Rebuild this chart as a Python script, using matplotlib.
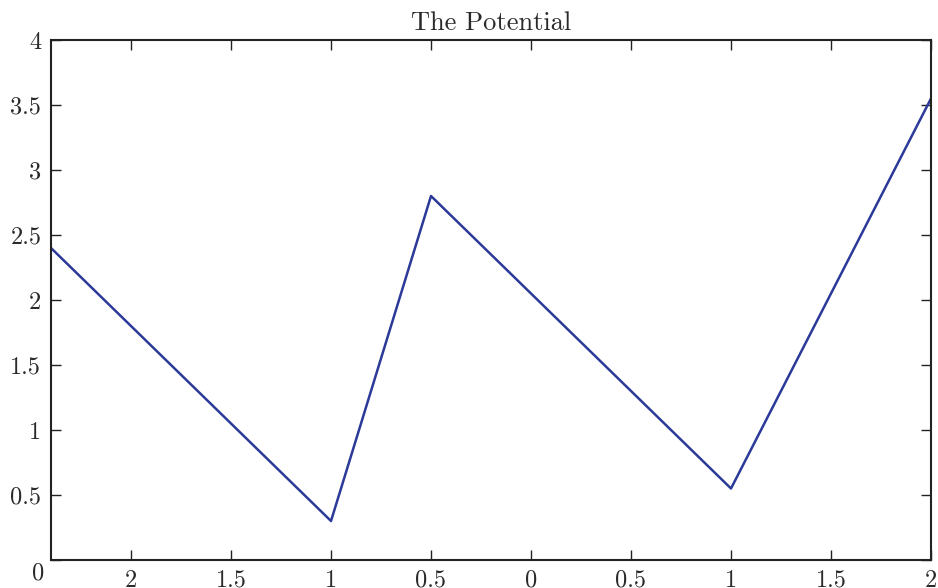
import matplotlib
matplotlib.use("Agg")
import matplotlib.pyplot as plt
import matplotlib.transforms as mtransforms

plt.rcParams['font.family'] = ['cmr10', 'DejaVu Serif']
plt.rcParams['mathtext.fontset'] = 'cm'
plt.rcParams['axes.unicode_minus'] = False

# Data: piecewise-linear potential
x_vals = [-2.4, -1.0, -0.5, 1.0, 2.0]
v_vals = [2.4, 0.3, 2.8, 0.55, 3.55]

x_ticks = [-2.0, -1.5, -1.0, -0.5, 0.0, 0.5, 1.0, 1.5, 2.0]
x_tick_labels = ["2", "1.5", "1", "0.5", "0", "0.5", "1", "1.5", "2"]
y_ticks = [0.0, 0.5, 1.0, 1.5, 2.0, 2.5, 3.0, 3.5, 4.0]
y_tick_labels = ["0", "0.5", "1", "1.5", "2", "2.5", "3", "3.5", "4"]

text_color = '#2a2a2a'
fig = plt.figure(figsize=(9.38, 5.88), dpi=100)
ax = fig.add_axes([51/938, 1 - 560/588, (931-51)/938, (560-40)/588])
ax.plot(x_vals, v_vals, color='#2b3a98', linewidth=1.8)
ax.set_xlim(-2.4, 2.0)
ax.set_ylim(0, 4)
ax.set_xticks(x_ticks)
ax.set_xticklabels(x_tick_labels)
ax.set_yticks(y_ticks)
ax.set_yticklabels(y_tick_labels)
ax.tick_params(direction='in', length=7, width=1.0, top=True, right=True,
               labelsize=17.5, pad=7, color='#222222', labelcolor=text_color)
for s in ax.spines.values():
    s.set_linewidth(1.5)
    s.set_color('#222222')
# the bottom "0" y-label sits below the axis line
lab0 = ax.get_yticklabels()[0]
lab0.set_verticalalignment('top')
lab0.set_transform(lab0.get_transform() +
                   mtransforms.ScaledTranslation(3/100, -2/100, fig.dpi_scale_trans))
ax.set_title("The Potential", fontsize=19, pad=7, color=text_color)
fig.savefig("out.png", dpi=100)
